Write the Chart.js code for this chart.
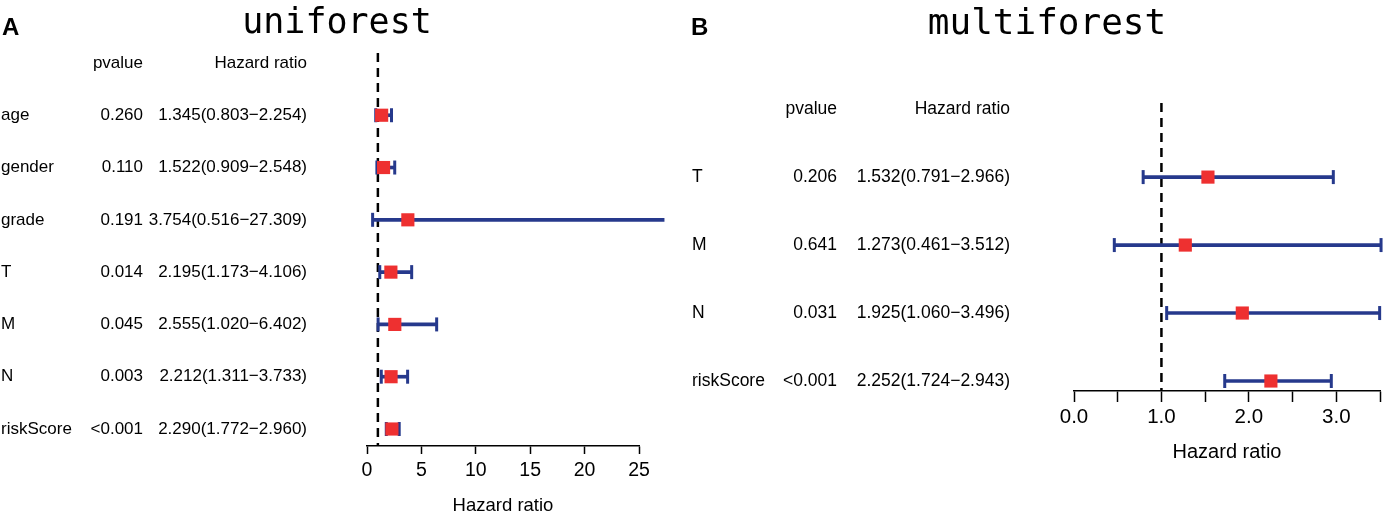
<!DOCTYPE html>
<html>
<head>
<meta charset="utf-8">
<script src="https://cdn.jsdelivr.net/npm/chart.js@4.4.1/dist/chart.umd.min.js"></script>
<style>
body{margin:0;background:#fff;width:1390px;height:515px;position:relative;overflow:hidden;font-family:"Liberation Sans",Arial,sans-serif}
canvas{position:absolute;top:0}
#ca{left:0}
#cb{left:690px}
.tag{position:absolute;font-weight:bold;font-size:24px;line-height:1}
.ttl{position:absolute;font-family:"DejaVu Sans Mono",monospace;font-size:35px;line-height:1;transform:translateX(-50%);white-space:nowrap}
</style>
</head>
<body>
<canvas id="ca" width="690" height="515"></canvas>
<canvas id="cb" width="700" height="515"></canvas>
<div class="tag" style="left:2px;top:15px">A</div>
<div class="ttl" style="left:337px;top:4px">uniforest</div>
<div class="tag" style="left:691px;top:15px">B</div>
<div class="ttl" style="left:1047px;top:4px;font-size:36px">multiforest</div>
<script>
// univariate
let uniVars = ["age","gender","grade","T","M","N","riskScore"];
let uniP = ["0.260","0.110","0.191","0.014","0.045","0.003","<0.001"];
let uniHR = [1.345,1.522,3.754,2.195,2.555,2.212,2.290];
let uniLow = [0.803,0.909,0.516,1.173,1.020,1.311,1.772];
let uniHigh = [2.254,2.548,27.309,4.106,6.402,3.733,2.960];
let uniTicks = [0,5,10,15,20,25];
let uniTickLabels = ["0","5","10","15","20","25"];

// multivariate
let multiVars = ["T","M","N","riskScore"];
let multiP = ["0.206","0.641","0.031","<0.001"];
let multiHR = [1.532,1.273,1.925,2.252];
let multiLow = [0.791,0.461,1.060,1.724];
let multiHigh = [2.966,3.512,3.496,2.943];
let multiTicks = [0,0.5,1,1.5,2,2.5,3,3.5];
let multiTickLabels = ["0.0","","1.0","","2.0","","3.0",""];

let refHR = 1;
let red = "#ee3030", blue = "#26398c";
let fam = '"Liberation Sans", Arial, sans-serif';

function forest(id, vars, pv, hr, lo, hi, ticks, tickLabels, o){
    let rows = vars.map((_,i)=>i);
    let cols = {
        id:"cols",
        afterDraw(c){
            let ctx = c.ctx, ys = c.scales.y;
            ctx.save();
            ctx.fillStyle = "#000";
            ctx.font = o.txtSize+"px "+fam;
            ctx.textBaseline = "middle";
            let hy = ys.getPixelForValue(-1);
            ctx.textAlign = "right";
            ctx.fillText("pvalue", o.pX, hy);
            ctx.fillText("Hazard ratio", o.hrX, hy);
            rows.forEach(i=>{
                let y = ys.getPixelForValue(i);
                ctx.textAlign = "left";
                ctx.fillText(vars[i], o.labX, y);
                ctx.textAlign = "right";
                ctx.fillText(pv[i], o.pX, y);
                ctx.fillText(hr[i].toFixed(3)+"("+lo[i].toFixed(3)+"\u2212"+hi[i].toFixed(3)+")", o.hrX, y);
            });
            ctx.restore();
        }
    };
    return new Chart(document.getElementById(id),{
        type:"scatter",
        data:{
            datasets:[
                {type:"scatter",data:rows.map(i=>({x:hr[i],y:i})),pointStyle:"rect",radius:o.sq,
                 backgroundColor:red,borderWidth:0,order:0,clip:false},
                {type:"scatter",data:rows.map(i=>({x:lo[i],y:i})).concat(rows.map(i=>({x:hi[i],y:i}))),
                 pointStyle:"line",rotation:90,radius:7,borderColor:blue,borderWidth:3,order:1,clip:false},
                {type:"bar",indexAxis:"y",data:rows.map(i=>({x:[lo[i],hi[i]],y:i})),backgroundColor:blue,
                 barThickness:3,order:2,clip:false},
                {type:"line",data:[{x:refHR,y:o.yMin},{x:refHR,y:o.yMax}],borderColor:"#000",borderWidth:2.5,
                 borderDash:[9,6],pointRadius:0,order:3}
            ]
        },
        options:{
            responsive:false,
            animation:false,
            events:[],
            layout:{padding:{left:o.left,right:o.right,top:o.top,bottom:0}},
            plugins:{legend:{display:false},tooltip:{enabled:false}},
            scales:{
                x:{type:"linear",min:ticks[0],max:ticks[ticks.length-1],offset:false,
                   afterBuildTicks:s=>{s.ticks = ticks.map(v=>({value:v}));},
                   afterFit:s=>{s.height = o.axH;},
                   ticks:{color:"#000",font:{family:fam,size:o.tickSize},padding:o.tickPad,autoSkip:false,maxRotation:0,
                          callback:(v,i)=>tickLabels[i]},
                   grid:{display:true,drawOnChartArea:false,drawTicks:true,tickLength:o.tickLen,tickWidth:1.5,
                         tickColor:"#000",offset:false},
                   border:{display:true,color:"#000",width:1.5},
                   title:{display:true,text:"Hazard ratio",color:"#000",
                          font:{family:fam,size:o.titleSize,lineHeight:1},padding:{top:0,bottom:o.titlePad}}},
                y:{type:"linear",display:false,reverse:true,min:o.yMin,max:o.yMax,offset:false,grid:{offset:false}}
            }
        },
        plugins:[cols]
    });
}

forest("ca",uniVars,uniP,uniHR,uniLow,uniHigh,uniTicks,uniTickLabels,
    {left:367,right:51,top:53,axH:69,yMin:-1.19,yMax:6.325,sq:9.3,tickLen:8,tickSize:19.5,tickPad:5,titleSize:18.5,titlePad:0,
     txtSize:17,labX:1,pX:143,hrX:307});
forest("cb",multiVars,multiP,multiHR,multiLow,multiHigh,multiTicks,multiTickLabels,
    {left:384,right:3,top:103,axH:124,yMin:-1.09,yMax:3.147,sq:9.3,tickLen:11,tickSize:20.5,tickPad:3,titleSize:20,titlePad:53,
     txtSize:17.5,labX:2,pX:147,hrX:320});
</script>
</body>
</html>
